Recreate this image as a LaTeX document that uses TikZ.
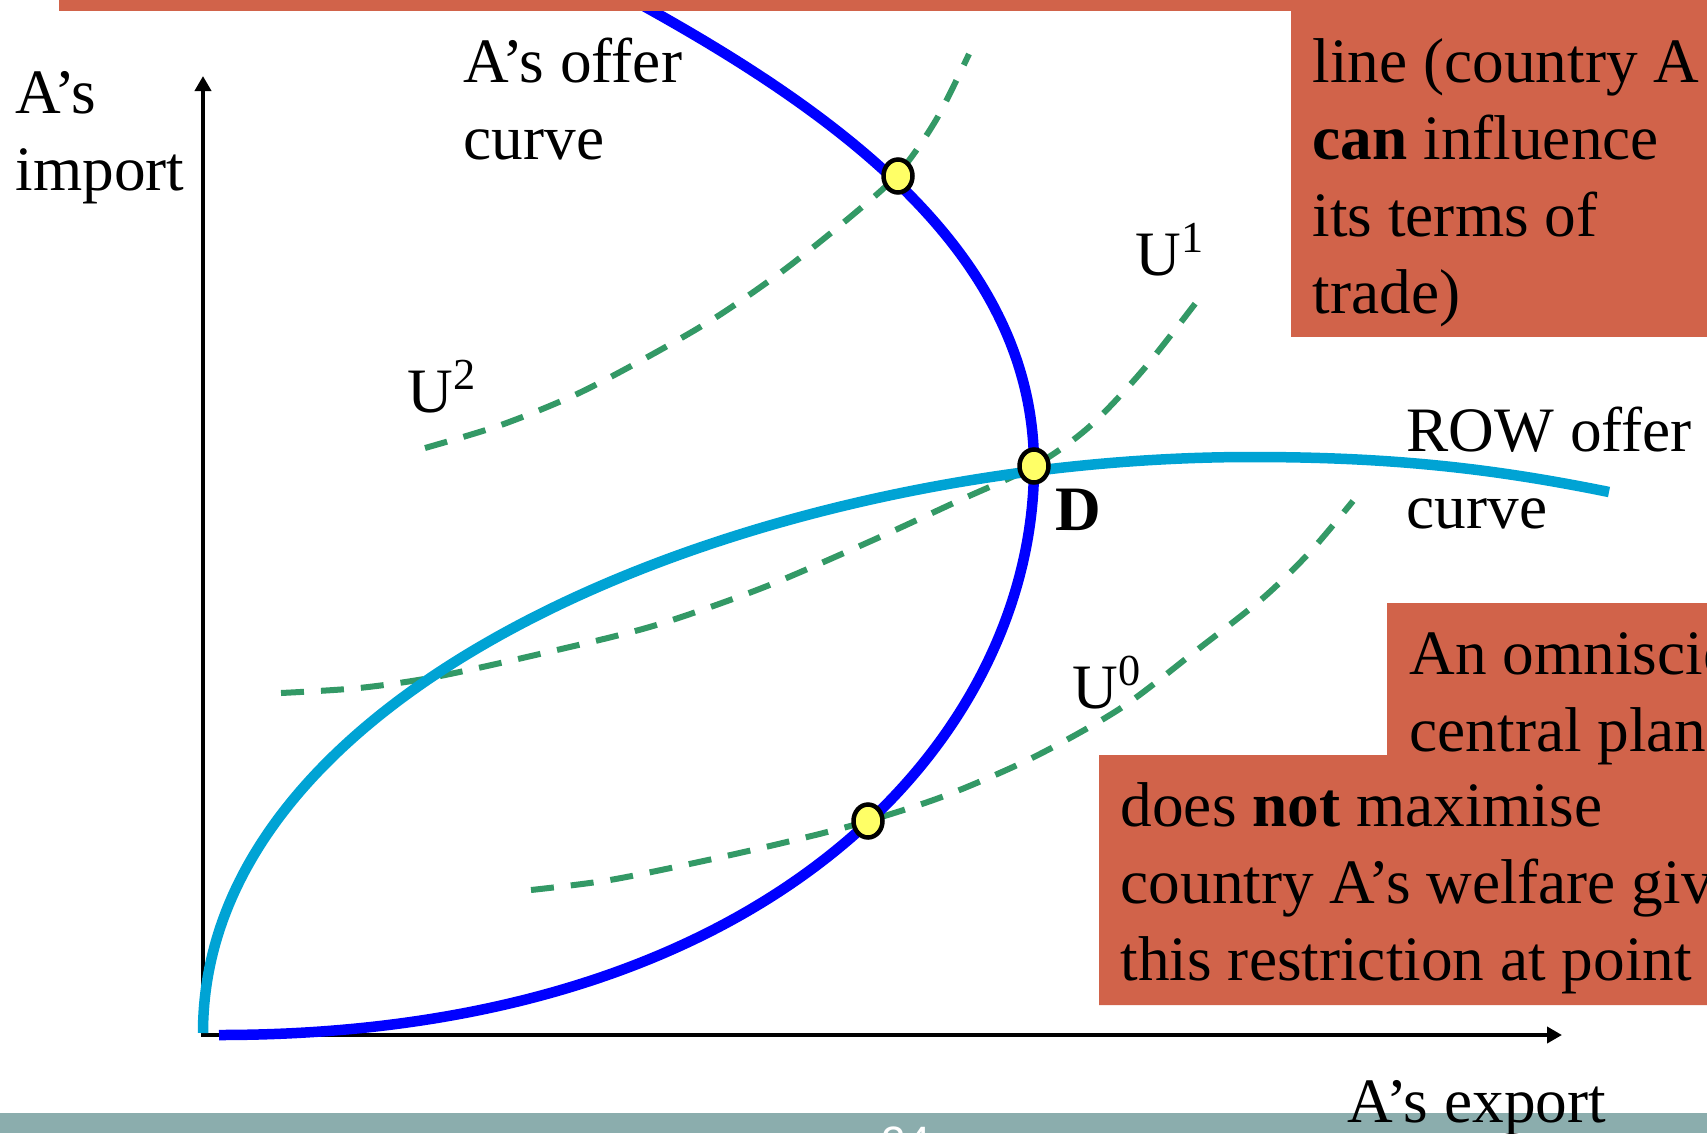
\documentclass[tikz,border=0pt]{standalone}
\usepackage{fontspec}
\setmainfont{Liberation Serif}
\newfontfamily\slidenum{Liberation Sans}
\usetikzlibrary{arrows.meta,shapes.geometric}
\definecolor{boxred}{RGB}{209,99,74}
\definecolor{offerblue}{RGB}{0,0,255}
\definecolor{rowcyan}{RGB}{0,163,212}
\definecolor{ucurve}{RGB}{51,153,102}
\definecolor{ptyellow}{RGB}{255,255,102}
\definecolor{barteal}{RGB}{139,173,173}

\begin{document}
\begin{tikzpicture}[
x=0.1mm, y=-0.1mm,
lbl/.style={inner sep=0pt, anchor=base west, align=left, font=\fontsize{18}{21.9}\selectfont},
offer/.style={line width=1.05mm},
indiff/.style={draw=ucurve, line width=0.6mm, dash pattern=on 2.3mm off 1.7mm},
eqpt/.style={draw, ellipse, fill=ptyellow, line width=0.45mm, minimum width=2.9mm, minimum height=3.3mm, inner sep=0pt},
>={Triangle[length=1.5mm, width=1.6mm]}
]
\useasboundingbox (0,0) rectangle (1707,1133);
\clip (0,0) rectangle (1707,1133);

\coordinate (O) at (203,1035);
\coordinate (ytip) at (203,76);
\coordinate (xtip) at (1562,1035);
\draw[<->, line width=0.45mm] (ytip) -- (O) -- (xtip);

\draw[indiff] plot[smooth] coordinates {(425,448) (501,425) (577,394) (653,354) (718,316) (784,270) (849,218) (898,174) (936,120) (969,54)};
\draw[indiff] plot[smooth] coordinates {(281,693) (359,688) (435,677) (544,653) (653,626) (762,588) (871,541) (958,501) (1034,466) (1089,427) (1143,370) (1201,296)};
\draw[indiff] plot[smooth] coordinates {(531,890) (610,880) (708,860) (795,840) (868,821) (947,795) (1034,757) (1121,708) (1197,650) (1263,598) (1310,552) (1353,501)};

\coordinate (Dpt) at (1034,466);
\coordinate (rowpeak) at (1252,457);
\coordinate (rowend) at (1609,492);
\coordinate (Atop) at (640,4);
\coordinate (Aend) at (219,1035);
\draw[offer, rowcyan] (203,1033) .. controls (203,680) and (760,457) .. (rowpeak)
  .. controls (1400,457) and (1500,470) .. (rowend);
\draw[offer, offerblue] (Atop) .. controls (850,120) and (1034,260) .. (Dpt)
  .. controls (1034,730) and (780,1035) .. (Aend);

\node[eqpt] (top) at (898,176) {};
\node[eqpt] (D) at (Dpt) {};
\node[eqpt] (low) at (868,821) {};

\fill[boxred] (59,0) rectangle (1707,11);
\fill[boxred] (1291,0) rectangle (1707,337);
\fill[boxred] (1387,603) rectangle (1707,755) (1099,755) rectangle (1707,1005);
\fill[barteal] (0,1113) rectangle (1707,1133);

\node[lbl] (yname) at (15,190) {A’s\\import};
\node[lbl] (xname) at (1347,1122) {A’s export};
\node[lbl] (aoffer) at (463,159) {A’s offer\\curve};
\node[lbl] (rowoffer) at (1406,528) {ROW offer\\curve};
\node[lbl] (u2) at (407,412) {U\textsuperscript{2}};
\node[lbl] (u1) at (1135,275) {U\textsuperscript{1}};
\node[lbl] (u0) at (1072,708) {U\textsuperscript{0}};
\node[lbl] (dlabel) at (1055,530) {\textbf{D}};
\node[lbl] (note1) at (1312,313) {line (country A\\\textbf{can} influence\\its terms of\\trade)};
\node[lbl] (note2) at (1409,751) {An omniscient\\central planner};
\node[lbl] (note3) at (1120,980) {does \textbf{not} maximise\\country A’s welfare given\\this restriction at point};
\node[anchor=base, inner sep=0pt, text=white, font=\slidenum\fontsize{12.5}{15}\selectfont] (page) at (906,1157) {24};
\end{tikzpicture}
\end{document}
